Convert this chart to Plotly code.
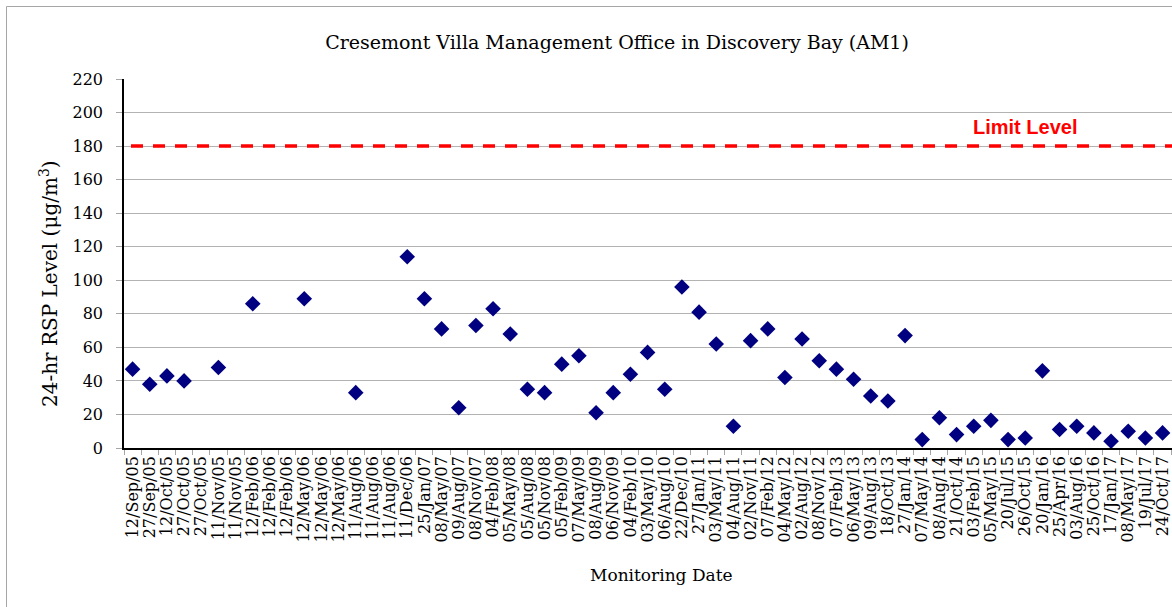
import plotly.graph_objects as go

dates = ["12/Sep/05", "27/Sep/05", "12/Oct/05", "27/Oct/05", "27/Oct/05", "11/Nov/05", "11/Nov/05",
         "12/Feb/06", "12/Feb/06", "12/Feb/06", "12/May/06", "12/May/06", "12/May/06",
         "11/Aug/06", "11/Aug/06", "11/Aug/06", "11/Dec/06", "25/Jan/07", "08/May/07", "09/Aug/07",
         "08/Nov/07", "04/Feb/08", "05/May/08", "05/Aug/08", "05/Nov/08", "05/Feb/09", "07/May/09",
         "08/Aug/09", "06/Nov/09", "04/Feb/10", "03/May/10", "06/Aug/10", "22/Dec/10", "27/Jan/11",
         "03/May/11", "04/Aug/11", "02/Nov/11", "07/Feb/12", "04/May/12", "02/Aug/12", "08/Nov/12",
         "07/Feb/13", "06/May/13", "09/Aug/13", "18/Oct/13", "27/Jan/14", "07/May/14", "08/Aug/14",
         "21/Oct/14", "03/Feb/15", "05/May/15", "20/Jul/15", "26/Oct/15", "20/Jan/16", "25/Apr/16",
         "03/Aug/16", "25/Oct/16", "17/Jan/17", "08/May/17", "19/Jul/17", "24/Oct/17"]

rsp = [47, 38, 43, 40, None, 48, None,
       86, None, None, 89, None, None,
       33, None, None, 114, 89, 71, 24,
       73, 83, 68, 35, 33, 50, 55,
       21, 33, 44, 57, 35, 96, 81,
       62, 13, 64, 71, 42, 65, 52,
       47, 41, 31, 28, 67, 5, 18,
       8, 13, 16.5, 5, 6, 46, 11,
       13, 9, 4, 10, 6, 9]

limit_level = 180
y_ticks = list(range(0, 221, 20))

serif = "DejaVu Serif"
x_pos = list(range(len(dates)))

PW, PH = 1048, 369          # plot area size in px
def px(x):                  # window x pixel -> paper
    return (x - 124) / PW
def py(y):                  # window y pixel -> paper
    return (448 - y) / PH

fig = go.Figure()
fig.add_trace(go.Scatter(
    x=x_pos, y=rsp, mode="markers",
    marker=dict(symbol="diamond", size=12, color="#000080"),
    showlegend=False, hoverinfo="x+y", cliponaxis=False))

fig.add_shape(type="line", xref="paper", yref="y", x0=px(131), x1=1, y0=limit_level, y1=limit_level,
              line=dict(color="#ff0000", width=3.5, dash="12px,10px"))
fig.add_annotation(text="<b>Limit Level</b>", xref="paper", yref="paper",
                   x=px(1025), y=py(127), xanchor="center", yanchor="middle", showarrow=False,
                   font=dict(family="Liberation Sans", size=20, color="#ff0000"))

# outer chart border (left/top visible)
fig.add_shape(type="rect", xref="paper", yref="paper",
              x0=px(6.5), x1=1.05, y0=py(640), y1=py(6.5),
              line=dict(color="#a6a6a6", width=1), layer="below")

fig.add_annotation(text="24-hr RSP Level (μg/m<sup>3</sup>)", xref="paper", yref="paper",
                   x=px(49), y=py(284), textangle=-90, xanchor="center", yanchor="middle",
                   showarrow=False, font=dict(family=serif, size=20, color="#000000"))
fig.add_annotation(text="Monitoring Date", xref="paper", yref="paper",
                   x=px(661), y=py(575), xanchor="center", yanchor="middle", showarrow=False,
                   font=dict(family=serif, size=17, color="#000000"))

fig.update_layout(
    width=1172, height=607,
    margin=dict(l=124, r=0, t=79, b=159, autoexpand=False),
    paper_bgcolor="white", plot_bgcolor="white",
    title=dict(text="Cresemont Villa Management Office in Discovery Bay (AM1)",
               x=px(617), xref="paper", xanchor="center",
               y=1 - 42 / 607, yref="container", yanchor="middle",
               font=dict(family=serif, size=19, color="#000000")),
    font=dict(family=serif, color="#000000"),
    xaxis=dict(range=[-0.5, 60.55], tickmode="array", tickvals=x_pos, ticktext=dates,
               tickangle=-90, ticks="", tickfont=dict(family=serif, size=16), automargin=False,
               ticklabeloverflow="allow",
               showgrid=False, zeroline=False, showline=True, linecolor="#000000", linewidth=1.5,
               minor=dict(tickmode="linear", tick0=-0.5, dtick=1, ticks="outside", ticklen=5,
                          tickcolor="#a6a6a6", showgrid=False)),
    yaxis=dict(range=[0, 220], tickmode="array", tickvals=y_ticks, ticks="outside", ticklen=6,
               tickcolor="#a6a6a6", tickfont=dict(family=serif, size=16), automargin=False,
               ticklabelstandoff=10,
               showgrid=True, gridcolor="#b3b3b3", gridwidth=1, zeroline=False,
               showline=True, linecolor="#000000", linewidth=1.5),
)

fig.write_html("out.html", config={"displayModeBar": False},
               post_script="document.body.style.margin='0';document.body.style.overflow='hidden';")
